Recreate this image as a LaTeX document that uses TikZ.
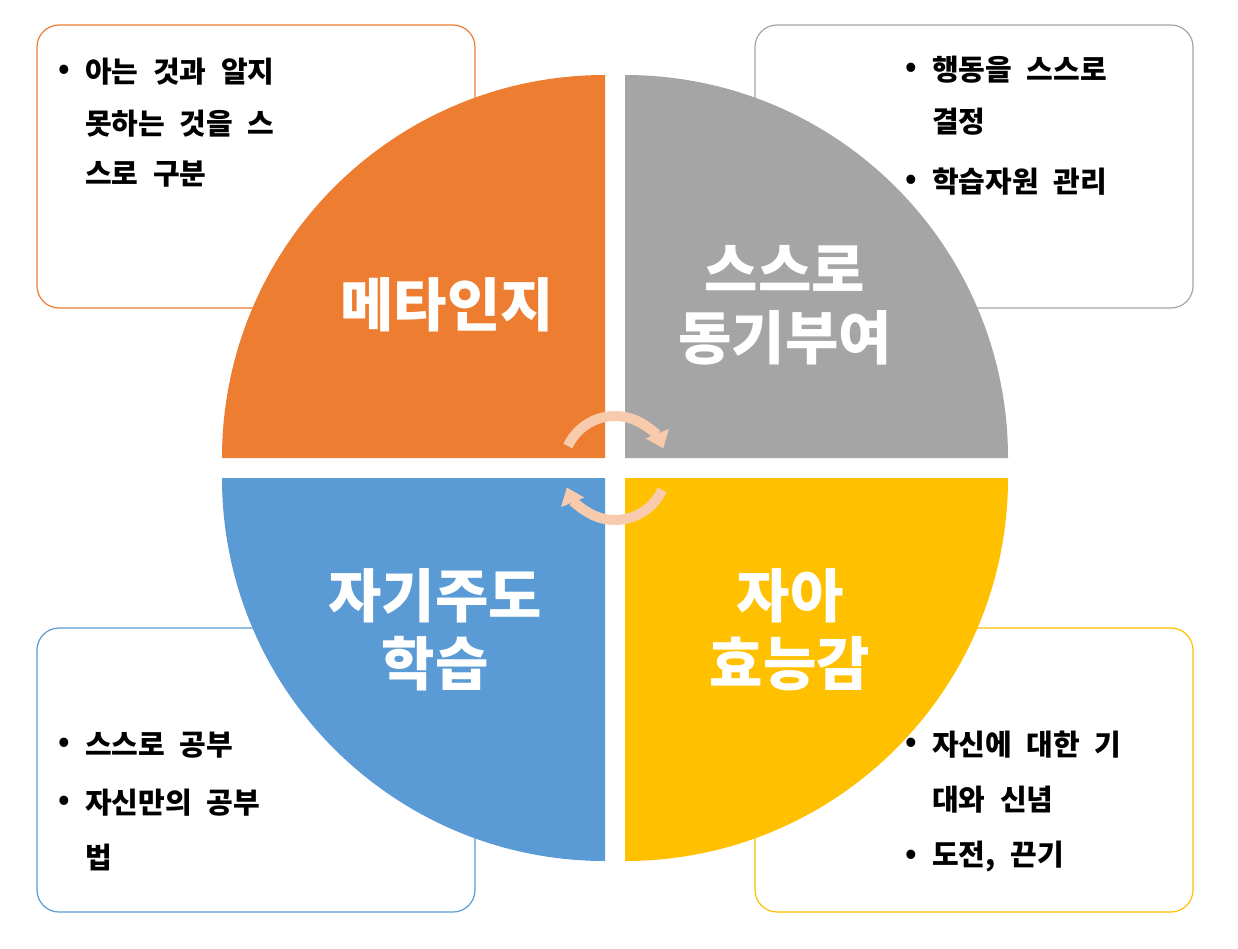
\documentclass[tikz,border=0pt]{standalone}
\usepackage{fontspec}
\setmainfont{Noto Sans CJK KR}[WordSpace=2.2]
\usetikzlibrary{arrows.meta}
\definecolor{cor}{HTML}{ED7D31}
\definecolor{cgr}{HTML}{A5A5A5}
\definecolor{cbl}{HTML}{5B9BD5}
\definecolor{cye}{HTML}{FFC000}
\definecolor{cpk}{HTML}{F8CBAD}
\begin{document}
\begin{tikzpicture}[x=1pt,y=-1pt,
  box/.style={line width=1.2pt,rounded corners=22pt},
  btxt/.style={anchor=west,inner sep=0pt,font=\fontsize{29}{32}\selectfont\bfseries},
  lab/.style={text=white,align=center,font=\fontsize{58}{68}\selectfont\bfseries},
  cyc/.style={cpk,line width=10pt,-{Triangle[width=24pt,length=16pt]}}]
\useasboundingbox (0,0) rectangle (1238,949);
\fill[white] (0,0) rectangle (1238,949);
% boxes
\draw[box,draw=cor,fill=white] (37,25) rectangle (475,308);
\draw[box,draw=cgr,fill=white] (755,25) rectangle (1193,308);
\draw[box,draw=cbl,fill=white] (37,628) rectangle (475,912);
\draw[box,draw=cye,fill=white] (755,628) rectangle (1193,912);
% quadrants
\fill[cor] (605,458) -- (222,458) arc[start angle=180,end angle=270,radius=383] -- cycle;
\fill[cgr] (625,458) -- (625,75) arc[start angle=270,end angle=360,radius=383] -- cycle;
\fill[cbl] (605,478) -- (605,861) arc[start angle=90,end angle=180,radius=383] -- cycle;
\fill[cye] (625,478) -- (1008,478) arc[start angle=0,end angle=90,radius=383] -- cycle;
% labels
\node[lab] (l1) at (447,305) {메타인지};
\node[lab] (l2) at (785,305) {스스로\\동기부여};
\node[lab] (l3) at (435,630) {자기주도\\학습};
\node[lab] (l4) at (790,630) {자아\\효능감};
% cycle arrows
\coordinate (c) at (615,468);
\draw[cyc] (c) ++(205:52) arc[start angle=205,end angle=338,radius=52];
\draw[cyc] (c) ++(25:52) arc[start angle=25,end angle=158,radius=52];
% texts TL
\node[btxt] (a0) at (58,72) {•};
\node[btxt] (a1) at (85,72) {아는 것과 알지};
\node[btxt] (a2) at (85,124) {못하는 것을 스};
\node[btxt] (a3) at (85,174) {스로 구분};
% TR
\node[btxt] (b0) at (905,70) {•};
\node[btxt] (b1) at (932,70) {행동을 스스로};
\node[btxt] (b2) at (932,122) {결정};
\node[btxt] (b3) at (905,182) {•};
\node[btxt] (b4) at (932,182) {학습자원 관리};
% BL
\node[btxt] (d0) at (58,745) {•};
\node[btxt] (d1) at (85,745) {스스로 공부};
\node[btxt] (d2) at (58,803) {•};
\node[btxt] (d3) at (85,803) {자신만의 공부};
\node[btxt] (d4) at (85,857) {법};
% BR
\node[btxt] (e0) at (905,745) {•};
\node[btxt] (e1) at (932,745) {자신에 대한 기};
\node[btxt] (e2) at (932,800) {대와 신념};
\node[btxt] (e3) at (905,857) {•};
\node[btxt] (e4) at (932,857) {도전, 끈기};
\end{tikzpicture}
\end{document}
